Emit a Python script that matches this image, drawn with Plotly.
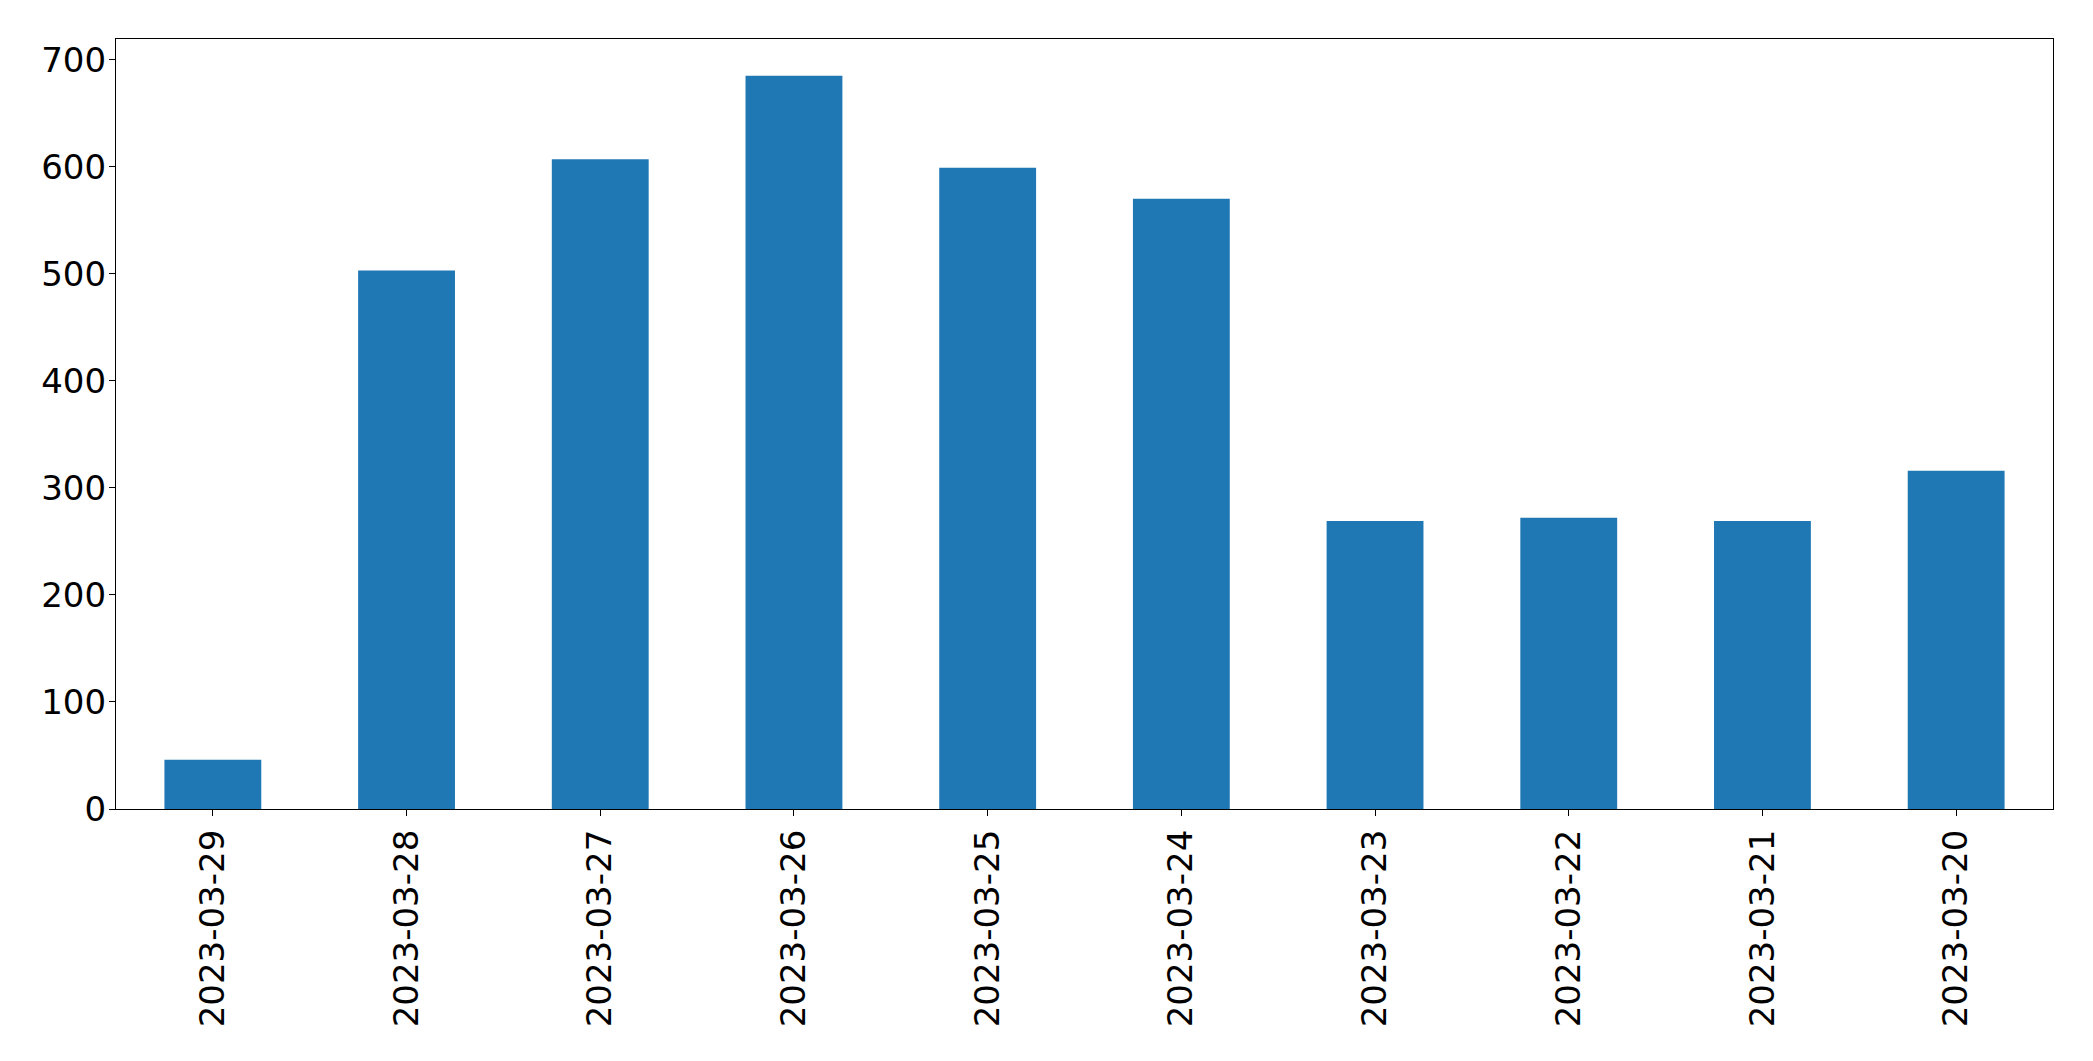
import plotly.graph_objects as go

dates = ["2023-03-29", "2023-03-28", "2023-03-27", "2023-03-26", "2023-03-25",
         "2023-03-24", "2023-03-23", "2023-03-22", "2023-03-21", "2023-03-20"]
counts = [46, 503, 607, 685, 599, 570, 269, 272, 269, 316]
y_ticks = [0, 100, 200, 300, 400, 500, 600, 700]

fig = go.Figure(go.Bar(x=dates, y=counts, marker=dict(color="#1f77b4", line=dict(width=0))))

# page body has an 8px margin, so the figure is offset by 8px; compensate
fig.update_layout(
    width=2085, height=1053,
    margin=dict(l=108, r=40, t=31, b=252, autoexpand=False),
    paper_bgcolor="white", plot_bgcolor="white",
    bargap=0.5, showlegend=False,
    font=dict(family="DejaVu Sans", size=34, color="black"),
)
fig.update_xaxes(
    type="category", tickangle=-90, showline=True, linecolor="black", linewidth=1.3,
    mirror=True, ticks="outside", ticklen=6, tickcolor="black", showgrid=False,
    range=[-0.5, len(dates) - 0.5], automargin=False,
)
fig.update_yaxes(
    range=[0, max(counts) * 1.05], tickvals=y_ticks, showline=True, linecolor="black",
    linewidth=1.3, mirror=True, ticks="outside", ticklen=6, tickcolor="black",
    showgrid=False, zeroline=False, automargin=False, ticklabelstandoff=-4,
)
fig.write_html("out.html")
